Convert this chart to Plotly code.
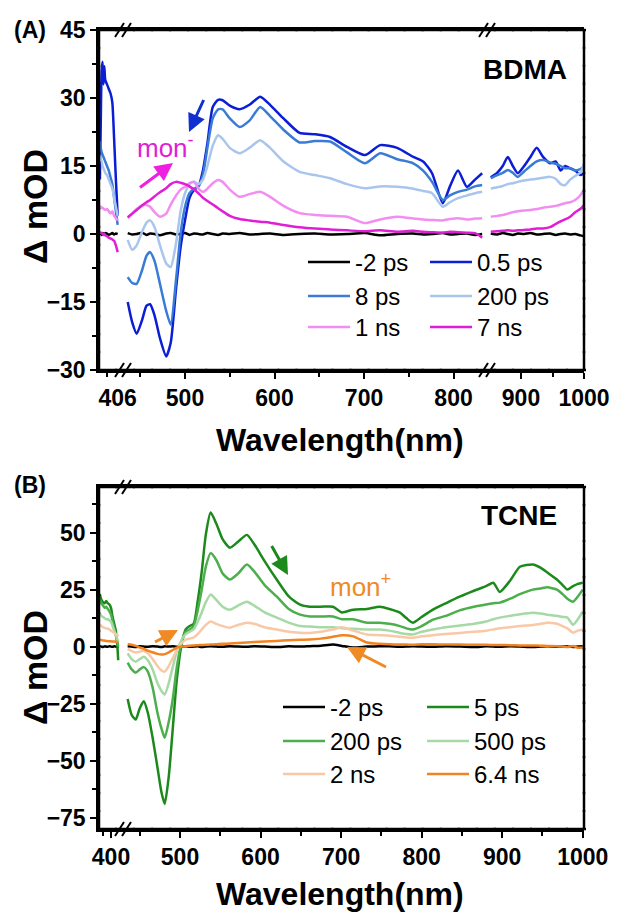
import plotly.graph_objects as go

W, H = 618, 913
def px(x): return x / W
def py(y): return 1 - y / H

# ---------------- Panel A (BDMA) data ----------------
WL_A0 = [386, 387, 388, 389, 390, 391, 392, 394, 396, 398, 400, 402, 404, 406]
A0_m2ps = [0.3, 0.1, -0.2, 0.2, 0.0, -0.1, 0.2, 0.1, -0.2, 0.0, 0.2, -0.1, 0.1, 0.0]
A0_05ps = [12, 25, 36, 38, 33, 37, 34, 33, 32, 31, 29, 21, 12, 4]
A0_8ps = [20.5, 19, 18, 17.5, 17, 16.5, 16, 15, 14, 12.5, 11, 8, 5, 2]
A0_200ps = [17.5, 16.5, 16, 15, 14.5, 14, 13.5, 13, 12, 11, 10, 8, 6, 4]
A0_1ns = [6.2, 6, 5.8, 5.8, 5.5, 5.5, 5.3, 5.5, 5, 4.5, 5, 4, 3.5, 3]
A0_7ns = [0.5, 0.3, 0.2, 0, -0.2, 0, -0.3, -0.5, -0.8, -1, -1.2, -1.5, -2.5, -4]

WL_A1 = [436, 441, 446, 452, 457, 461, 466, 472, 479, 484,
         490, 495, 500, 505, 510, 515, 520, 525, 531, 537,
         542, 550, 561, 572, 584, 595, 610, 628, 645, 662,
         681, 701, 718, 737, 755, 766, 776, 788, 796, 805,
         815, 824, 832]
A1_m2ps = [0.2, -0.1, 0.0, 0.3, -0.2, 0.1, 0.0, -0.3, 0.1, 0.2,
           -0.1, 0.0, 0.2, -0.2, 0.1, 0.0, -0.1, 0.2, 0.0, -0.2,
           0.1, 0.0, 0.2, -0.1, 0.0, 0.1, -0.2, 0.0, 0.1, -0.1,
           0.0, 0.2, -0.3, 0.0, 0.1, -0.1, 0.0, 0.2, -0.1, 0.0,
           0.1, -0.2, 0.0]
A1_05ps = [-15, -19.5, -22, -19, -15.8, -15.5, -18, -23, -27, -24,
           -12, -3, 3, 8, 9.7, 10.5, 14, 20, 28, 29.6,
           29.5, 28.3, 27.5, 28.5, 30.3, 28.5, 25.5, 22.3, 22, 21.4,
           19.2, 17.4, 19.6, 19, 17, 16, 13.4, 6.8, 10.5, 14,
           10.4, 12, 13.4]
A1_8ps = [-9.5, -10.8, -11, -8, -4.8, -4, -6, -11, -17, -20,
          -10, 0, 6, 9, 10, 10.5, 13, 19, 25.5, 27.5,
          27.5, 25.5, 23.6, 25, 28, 26, 23, 20.2, 20.5, 20.4,
          18, 15.6, 17.8, 16.5, 15.6, 14, 11.5, 7.5, 8.5, 9.3,
          9.8, 10.5, 10.8]
A1_200ps = [-1.3, -3.5, -2.5, 0.5, 2.5, 3, 1.5, -2.5, -6.5, -7.3,
            -2, 5, 9, 11, 11.5, 11, 12, 15, 19.5, 21.8,
            21, 19, 17.8, 19, 20.7, 19, 16, 13.7, 13, 12.3,
            11, 10.1, 10.5, 10.4, 10, 9.5, 9, 6, 7, 7.9,
            8.5, 9, 9.3]
A1_1ns = [3.5, 4.5, 5.5, 6.3, 6.4, 6, 4.8, 3.8, 4.5, 6.5,
          8.5, 9.8, 10.4, 11.2, 11.5, 10, 9.3, 10, 11.2, 11.9,
          11.5, 9.8, 8.2, 8.8, 9.3, 8.2, 6.2, 4.6, 4.2, 4,
          3.8, 2.4, 3.2, 3.8, 3.4, 3.2, 3.1, 3, 3.3, 3.5,
          3.2, 3.4, 3.5]
A1_7ns = [3.7, 4.5, 5.3, 6.3, 7, 7.5, 8.3, 9.2, 10.1, 11,
          11.5, 11.3, 11, 10.5, 9.8, 9, 8, 7.3, 6.5, 5.7,
          5, 4, 3.3, 3, 2.7, 2.5, 2, 1.5, 1.2, 1,
          0.8, 0.6, 0.8, 0.5, 0.7, 0.5, 0.4, 0.3, 0.5, 0.4,
          0.3, 0.2, -0.8]

WL_A2 = [852, 862, 871, 879, 887, 895, 905, 915, 925, 935, 946, 955, 963, 970, 978, 986, 994, 1000]
A2_m2ps = [0.1, -0.1, 0.2, 0.0, -0.2, 0.1, 0.0, 0.2, -0.1, 0.0, 0.1, -0.2, 0.0, 0.1, -0.1, 0.0, -0.3, -0.5]
A2_05ps = [12.5, 13.5, 15, 17, 15, 13.4, 15, 17, 19, 17, 15.6, 16, 14, 15, 14.5, 14, 13, 13.4]
A2_8ps = [12.3, 13, 13.5, 14.1, 13.5, 12.6, 13.8, 15, 16, 16.3, 15.8, 15.5, 15, 14.5, 14.5, 14, 14.3, 14.8]
A2_200ps = [10, 10.3, 10.6, 11, 11.2, 11.5, 11.8, 12, 12.2, 12.4, 12.6, 12.2, 11, 10.8, 12, 12.8, 13.5, 15.6]
A2_1ns = [3.8, 4, 4.2, 4.5, 4.8, 5, 5.2, 5.3, 5.5, 5.8, 6, 6.2, 6.5, 6.8, 7, 7.5, 8.5, 9.7]
A2_7ns = [0.5, 0.6, 0.7, 0.8, 0.7, 0.8, 0.9, 1, 1.2, 1.2, 1.5, 2.2, 2.8, 3.2, 3.8, 4.8, 5.5, 6.4]

# ---------------- Panel B (TCNE) data ----------------
WL_B0 = [386, 388, 390, 392, 394, 396, 398, 400, 402, 404, 406, 408, 409]
B0_m2ps = [0.2, 0.0, -0.2, 0.1, 0.0, -0.1, 0.2, 0.0, -0.1, 0.1, 0.0, -0.2, 0.0]
B0_5ps = [23, 20.5, 19.5, 19, 20, 19, 18.5, 17, 13, 10, 7, 0, -6]
B0_200ps = [20.5, 19, 18, 17, 17.5, 16.5, 15.5, 14, 11, 8, 5, 2, 0]
B0_500ps = [14.5, 13.5, 13, 12.5, 12, 12, 11.5, 11, 9, 7, 5, 3, 2]
B0_2ns = [9.6, 9, 8.5, 8.2, 8, 7.9, 7.5, 7, 6.5, 6, 5.5, 5, 4.5]
B0_64ns = [3, 2.9, 2.7, 2.6, 2.5, 2.4, 2.3, 2.3, 2.2, 2.2, 2.1, 2, 2]

WL_B1 = [435, 440, 445, 450, 455, 460, 466, 472, 477, 481,
         486, 491, 496, 502, 507, 512, 517, 522, 527, 532,
         538, 545, 553, 562, 572, 583, 592, 605, 620, 635,
         649, 661, 675, 690, 701, 715, 732, 748, 760, 773,
         781, 789, 800, 814, 830, 848, 865, 880, 889, 897,
         910, 922, 938, 948, 956, 968, 975, 981, 988, 994,
         1000]
B1_m2ps = [0.2, 0.0, -0.2, 0.1, 0.0, -0.1, 0.2, 0.0, -0.2, 0.1,
           0.0, 0.1, -0.1, 0.0, 0.2, -0.1, 0.0, 0.1, -0.2, 0.0,
           0.1, 0.0, -0.1, 0.2, 0.0, -0.1, 0.1, 0.0, -0.2, 0.1,
           0.0, 0.2, 0.4, 0.9, 0.3, -0.4, 0.0, 0.2, 0.1, -0.1,
           0.0, 0.2, 0.0, -0.1, 0.1, 0.0, -0.2, 0.1, 0.0, -0.1,
           0.1, 0.0, -0.2, 0.0, 0.1, -0.1, 0.0, 0.2, -0.2, 0.0,
           0.1]
B1_5ps = [-23, -30, -32, -27, -24, -29, -40, -53, -64, -69,
          -57, -36, -14.5, 1, 7.5, 9, 10, 20, 33, 49,
          58.8, 54, 47, 43.4, 46, 49, 45, 37.5, 29.4, 22,
          18.4, 17.5, 17.5, 17.5, 15, 16.2, 16.5, 17.5, 16.5, 14.9,
          12.5, 10.5, 13, 16.2, 19, 22, 24.5, 26.5, 28, 24,
          29, 35, 36, 34.5, 32.5, 29.4, 27, 25, 26.5, 27.5,
          28]
B1_200ps = [-7, -10, -11.4, -10, -9, -11, -18, -29, -36, -40,
            -33, -23, -9, 2, 6.5, 7.5, 9, 16, 25, 35,
            41, 38, 32, 29.4, 32, 36, 33, 27, 22, 16.5,
            14, 13.2, 13.2, 13.2, 12, 12, 10.5, 10.5, 10, 9,
            8, 7.5, 9, 11.8, 13.5, 16, 17.5, 18.5, 19, 19.3,
            21, 23, 25, 25.5, 26, 25, 23, 21, 19.7, 22,
            25]
B1_500ps = [-3, -5.5, -6.6, -5.5, -4.4, -6, -10, -16, -19.5, -21,
            -16, -9, -2, 3, 5.5, 6.5, 7.5, 11, 15, 19.5,
            22.8, 20.5, 17.5, 16.2, 18, 19.7, 18, 15, 12.7, 10.5,
            9, 8.8, 8.5, 8.5, 8, 7.8, 7.5, 7.5, 7, 6,
            5.5, 5.3, 6.5, 7.5, 8.5, 9.3, 10, 11, 12, 12.7,
            13.5, 14.2, 14.9, 14.5, 14, 13.5, 13, 12.7, 9.6, 12,
            15.4]
B1_2ns = [-1, -2, -2.6, -2.2, -1.8, -3, -5.5, -8.5, -10.5, -11,
          -8.5, -5, -1.5, 1.5, 3, 3.5, 4, 5.5, 7.5, 9.5,
          11, 10, 9, 8.3, 9.5, 10.5, 10, 8.5, 7.5, 6.5,
          6.1, 6, 6.5, 7.5, 8.5, 7, 5.3, 5, 4.8, 4.3,
          4, 3.9, 4.5, 5, 5.5, 6, 6.5, 7, 7.5, 8,
          8.5, 9, 9.5, 10, 10.5, 10, 9, 8, 6.1, 7,
          7.5]
B1_64ns = [1, 0.8, 0.3, -0.4, -1, -1.8, -2.5, -3.2, -3.5, -3.3,
           -2.5, -1.5, -0.5, 0, 0.2, 0.4, 0.5, 0.6, 0.7, 0.8,
           0.9, 1, 1.2, 1.4, 1.6, 1.8, 2, 2.2, 2.5, 2.8,
           3, 3.1, 3.5, 4.3, 5, 4.5, 1.8, 1.2, 1, 0.9,
           0.9, 0.8, 1, 1, 0.9, 0.9, 0.8, 0.8, 0.7, 0.7,
           0.6, 0.5, 0.5, 0.4, 0.3, 0.2, 0, -0.2, 0.3, -0.5,
           -0.4]

# legend labels / colors
A_NAMES = ["-2 ps", "0.5 ps", "8 ps", "200 ps", "1 ns", "7 ns"]
A_COLORS = ["#000000", "#0b1ed6", "#3a7bd5", "#a9c5ee", "#f28ef2", "#e01ed6"]
B_NAMES = ["-2 ps", "5 ps", "200 ps", "500 ps", "2 ns", "6.4 ns"]
B_COLORS = ["#000000", "#1b8a1b", "#4cae4c", "#a6d9a6", "#f9c8a6", "#f28322"]

A_TICKS = [406, 500, 600, 700, 800, 900, 1000]
B_TICKS = [400, 500, 600, 700, 800, 900, 1000]

A_series = [
    (A0_m2ps, A1_m2ps, A2_m2ps),
    (A0_05ps, A1_05ps, A2_05ps),
    (A0_8ps, A1_8ps, A2_8ps),
    (A0_200ps, A1_200ps, A2_200ps),
    (A0_1ns, A1_1ns, A2_1ns),
    (A0_7ns, A1_7ns, A2_7ns),
]
B_series = [
    (B0_m2ps, B1_m2ps),
    (B0_5ps, B1_5ps),
    (B0_200ps, B1_200ps),
    (B0_500ps, B1_500ps),
    (B0_2ns, B1_2ns),
    (B0_64ns, B1_64ns),
]

FONT = "Liberation Sans, Arial, sans-serif"
LW = 2.5

fig = go.Figure()

for i, (s0, s1, s2) in enumerate(A_series):
    leg = "legend" if i == 0 else "legend%d" % (i + 1)
    for j, (xa, wl, v) in enumerate([("x", WL_A0, s0), ("x2", WL_A1, s1), ("x3", WL_A2, s2)]):
        fig.add_trace(go.Scatter(x=wl, y=v, mode="lines", name=A_NAMES[i],
                                 line=dict(color=A_COLORS[i], width=LW, shape="spline", smoothing=0.6),
                                 xaxis=xa, yaxis="y", legend=leg,
                                 showlegend=(j == 1), hoverinfo="skip"))

for i, (s0, s1) in enumerate(B_series):
    leg = "legend%d" % (i + 7)
    for j, (xa, wl, v) in enumerate([("x4", WL_B0, s0), ("x5", WL_B1, s1)]):
        fig.add_trace(go.Scatter(x=wl, y=v, mode="lines", name=B_NAMES[i],
                                 line=dict(color=B_COLORS[i], width=LW, shape="spline", smoothing=0.6),
                                 xaxis=xa, yaxis="y2", legend=leg,
                                 showlegend=(j == 1), hoverinfo="skip"))

tickfont = dict(family=FONT, size=23, color="black", weight="bold")
LINE = dict(showline=True, linewidth=2.5, linecolor="#000000")

def xax(domain, rng, tickvals, minorvals, anchor, tickcolor="black"):
    return dict(domain=domain, range=rng, anchor=anchor, showgrid=False, mirror=True,
                zeroline=False, ticks="outside", ticklen=6, tickwidth=2, tickcolor=tickcolor,
                tickmode="array", tickvals=tickvals, ticktext=[str(t) for t in tickvals],
                tickfont=tickfont, fixedrange=True, automargin=False,
                minor=dict(ticks="outside", ticklen=4, tickwidth=2, tickcolor="black",
                           tickmode="array", tickvals=minorvals, showgrid=False), **LINE)

def yax(domain, rng, tickvals, minorvals, anchor):
    return dict(domain=domain, range=rng, anchor=anchor, showgrid=False,
                zeroline=False, ticks="outside", ticklen=6, tickwidth=2, tickcolor="black",
                tickmode="array", tickvals=tickvals, tickfont=tickfont, fixedrange=True,
                automargin=False,
                minor=dict(ticks="outside", ticklen=4, tickwidth=2, tickcolor="black",
                           tickmode="array", tickvals=minorvals, showgrid=False), **LINE)

L, R = 99, 584
BRK1, BRK2 = 123, 487
A_T, A_B = 30, 370
B_T, B_B = 487, 829
A_YR = [-30, 45]
B_YR = [-80, 70]

layout = dict(
    width=W, height=H, autosize=False,
    margin=dict(l=0, r=0, t=0, b=0, pad=0, autoexpand=False),
    paper_bgcolor="white", plot_bgcolor="white",
    xaxis=xax([px(L), px(BRK1)], [385, 412], [A_TICKS[0]], [394], "y", tickcolor="rgba(0,0,0,0)"),
    xaxis2=xax([px(BRK1), px(BRK2)], [430.7, 837.4], A_TICKS[1:5], [450, 550, 650, 750], "y"),
    xaxis3=xax([px(BRK2), px(R)], [846, 1000], A_TICKS[5:], [950], "y"),
    yaxis=yax([py(A_B), py(A_T)], A_YR, [-30, -15, 0, 15, 30, 45], [-22.5, -7.5, 7.5, 22.5, 37.5], "x"),
    xaxis4=xax([px(L), px(BRK1)], [385, 415], [B_TICKS[0]], [390], "y2"),
    xaxis5=xax([px(BRK1), px(R)], [429.2, 1001.6], B_TICKS[1:], [450, 550, 650, 750, 850, 950], "y2"),
    yaxis2=yax([py(B_B), py(B_T)], B_YR, [-75, -50, -25, 0, 25, 50], [-62.5, -37.5, -12.5, 12.5, 37.5, 62.5], "x4"),
    showlegend=True,
)

legfont = dict(family=FONT, size=24, color="black")
def leg(x, y):
    return dict(x=px(x), y=py(y), xanchor="left", yanchor="top", orientation="v",
                bgcolor="rgba(0,0,0,0)", borderwidth=0, font=legfont, itemwidth=42,
                tracegroupgap=0, itemclick=False, itemdoubleclick=False)

A_LEG = [(303, 240), (425, 240), (303, 274), (425, 274), (303, 305), (425, 305)]
B_LEG = [(278, 685), (422, 685), (278, 719), (422, 719), (278, 752), (422, 752)]
for k, (lx, ly) in enumerate(A_LEG + B_LEG):
    layout["legend" if k == 0 else "legend%d" % (k + 1)] = leg(lx, ly)
fig.update_layout(**layout)

# frame drawn as many short overlapping segments, plus axis-break marks
shapes = []
def seg(x0, y0, x1, y1, w=2):
    return dict(type="line", xref="paper", yref="paper", x0=px(x0), y0=py(y0), x1=px(x1), y1=py(y1),
                line=dict(color="black", width=w), layer="above")

def side(x0, y0, x1, y1, step=18.0):
    n = max(1, int(round(max(abs(x1 - x0), abs(y1 - y0)) / step)))
    out = []
    for k in range(n):
        a, b = k / n, (k + 1) / n
        xa, ya = x0 + (x1 - x0) * a, y0 + (y1 - y0) * a
        xb, yb = x0 + (x1 - x0) * b, y0 + (y1 - y0) * b
        # extend each piece by 1 px so pieces overlap
        if x1 != x0:
            xa -= 1; xb += 1
        else:
            ya -= 1; yb += 1
        out.append(seg(xa, ya, xb, yb, 2.5))
    return out

for (t, b) in [(A_T, A_B), (B_T, B_B)]:
    shapes += side(L - 1, t, R + 1, t)
    shapes += side(L - 1, b, R + 1, b)
    shapes += side(L, t, L, b)
    shapes += side(R, t, R, b)

def slash(xc, yc):
    out = []
    for off in (-3.5, 3.5):
        out.append(seg(xc + off - 4.5, yc + 7, xc + off + 4.5, yc - 7))
    return out

for (xc, yc) in [(BRK1, A_T), (BRK1, A_B), (BRK2, A_T), (BRK2, A_B), (BRK1, B_T), (BRK1, B_B)]:
    shapes += slash(xc, yc)
fig.update_layout(shapes=shapes)

ann = []
def text(x, y, s, size, bold=True, color="black", angle=0, xanchor="center", yanchor="middle"):
    ann.append(dict(x=px(x), y=py(y), xref="paper", yref="paper", text=s, showarrow=False,
                    textangle=angle, xanchor=xanchor, yanchor=yanchor,
                    font=dict(family=FONT, size=size, color=color, weight="bold" if bold else "normal")))

text(30, 30, "(A)", 23)
text(30, 485, "(B)", 23)
text(525, 69, "BDMA", 28)
text(519, 515, "TCNE", 28)
text(340, 440, "Wavelength(nm)", 32)
text(340, 894, "Wavelength(nm)", 32)
text(35, 207, "Δ mOD", 34, angle=-90)
text(35, 668, "Δ mOD", 34, angle=-90)
text(135, 146, "mon<sup>-</sup>", 26, bold=False, color="#e01ed6", xanchor="left")
text(328, 585, "mon<sup>+</sup>", 26, bold=False, color="#f08a24", xanchor="left")

def arrow(hx, hy, tx, ty, color):
    ann.append(dict(x=px(hx), y=py(hy), xref="paper", yref="paper", text=" ", showarrow=True,
                    ax=tx - hx, ay=ty - hy, arrowhead=2, arrowsize=1.2, arrowwidth=3,
                    arrowcolor=color, standoff=0, startstandoff=0, font=dict(size=2)))

arrow(173, 163, 138, 189, "#f01ee0")
arrow(189, 132, 205, 97, "#1030d0")
arrow(288, 575, 270, 543, "#1b8a1b")
arrow(178, 630, 153, 643, "#f08a24")
arrow(347, 647, 388, 668, "#f08a24")
fig.update_layout(annotations=ann)

fig.write_html("out.html")
